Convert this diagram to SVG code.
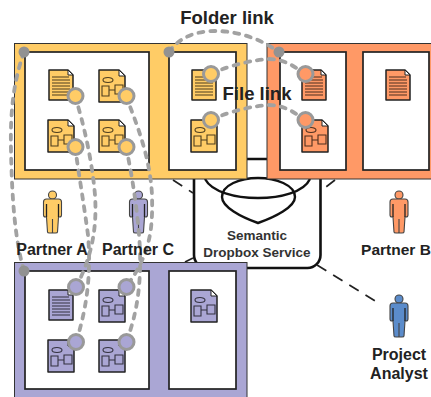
<svg xmlns="http://www.w3.org/2000/svg" width="431" height="397" viewBox="0 0 431 397">
<style>
text{font-family:"Liberation Sans",Arial,sans-serif;font-weight:bold;fill:#222;text-anchor:middle}
.big{font-size:18.5px}.lab{font-size:16px}.lab2{font-size:15.500px}.svc{font-size:13.5px;fill:#333}
.panel{stroke:#333;stroke-width:1}
.inner{fill:#fff;stroke:#222;stroke-width:1.7}
.y{fill:#FFCC66}.o{fill:#FF9966}.p{fill:#AAA6D4}.b{fill:#5B8CCB}
.doc{stroke:#222;stroke-width:1.5;stroke-linejoin:round}
.det{fill:none;stroke:#000;stroke-opacity:.7;stroke-width:1.1}
.ear{fill:#fff;stroke:#222;stroke-width:1}
.link{fill:none;stroke:#a2a2a2;stroke-width:3.800;stroke-dasharray:5 7;stroke-linecap:round}
.dot{fill:#929292}
.ring{stroke:#999;stroke-width:3}
.thin{fill:none;stroke:#222;stroke-width:1.700;stroke-dasharray:11 8}
.shape{fill:none;stroke:#111;stroke-width:2.400}
.arm{fill:none;stroke:#222;stroke-width:1.300}
.person{stroke:#444;stroke-width:1.100}
</style>
<defs>
<g id="tdoc">
<path class="doc" d="M0,0H19L24,5V30H0Z"/>
<path class="ear" d="M19,0L24,5H19Z"/>
<path class="det" d="M3,7H20M3,10H21M3,13H21M3,16H21M3,19H21M3,22H21M3,25H21"/>
</g>
<g id="ddoc">
<path class="doc" d="M0,0H20L26,6V32H0Z"/>
<path class="ear" d="M20,0L26,6H20Z"/>
<ellipse class="det" cx="9" cy="10" rx="5" ry="2.5"/>
<path class="det" d="M3,16H10V26H3ZM16,15H24V24H16ZM10,20H16"/>
</g>
<g id="person">
<circle cy="0" r="4"/>
<path d="M-9,7Q-9,4-6,4H6Q9,4 9,7V20Q9,22 7,22H6L5,37Q5,38 3,38H1Q0,38 0,37V24 37Q0,38-1,38H-3Q-5,38-5,37L-6,22H-7Q-9,22-9,20Z"/>
<path class="arm" d="M-6,9V22M6,9V22"/>
</g>
</defs>

<g id="service">
<rect x="194" y="159" width="126.500" height="109" rx="13" fill="#fff" stroke="#111" stroke-width="2.600"/>
<path class="shape" d="M205,179C212,192 235,198 258,198C281,198 304,192 310,179"/>
<path class="shape" d="M222,197C222,185 240,178 258,178C276,178 295,185 295,197C295,207 275,217 258,223C241,217 222,207 222,197Z"/>
<text class="svc" x="257" y="240">Semantic</text>
<text class="svc" x="257" y="257">Dropbox Service</text>
</g>

<g id="service-links">
<path class="thin" d="M173,180L193,193M335,180L322,190M185,262L193,258M317,265L380,304"/>
</g>

<g id="panel-yellow">
<rect class="panel y" x="14.500" y="43.500" width="232.500" height="135.500"/>
<rect class="inner" x="25" y="52" width="124" height="118"/>
<rect class="inner" x="169" y="52" width="67" height="118"/>
<use href="#tdoc" class="y" x="49" y="70"/>
<use href="#ddoc" class="y" x="99" y="70"/>
<use href="#ddoc" class="y" x="48" y="120"/>
<use href="#ddoc" class="y" x="99" y="120"/>
<use href="#tdoc" class="y" x="192" y="70"/>
<use href="#ddoc" class="y" x="191" y="120"/>
</g>

<g id="panel-orange">
<rect class="panel o" x="267" y="43.500" width="175" height="135.500"/>
<rect class="inner" x="280" y="52" width="66" height="118"/>
<rect class="inner" x="363" y="52" width="66" height="118"/>
<use href="#tdoc" class="o" x="302" y="70"/>
<use href="#ddoc" class="o" x="302" y="120"/>
<use href="#tdoc" class="o" x="386" y="70"/>
</g>

<g id="panel-purple">
<rect class="panel p" x="14.500" y="262.500" width="232.500" height="150"/>
<rect class="inner" x="25" y="271" width="124" height="118"/>
<rect class="inner" x="169" y="271" width="67" height="118"/>
<use href="#tdoc" class="p" x="49" y="290"/>
<use href="#ddoc" class="p" x="99" y="290"/>
<use href="#ddoc" class="p" x="48" y="340"/>
<use href="#ddoc" class="p" x="99" y="340"/>
<use href="#ddoc" class="p" x="191" y="290"/>
</g>

<g id="person-a"><use href="#person" class="y person" x="52.500" y="195"/></g>
<g id="person-c"><use href="#person" class="p person" x="138.500" y="195"/></g>
<g id="person-b"><use href="#person" class="o person" x="399" y="195"/></g>
<g id="person-analyst"><use href="#person" class="b person" x="399" y="299"/></g>

<g id="connectors">
<path class="link" d="M24,52C14,80 10,110 11,150C12,200 15,240 24,271"/>
<path class="link" d="M169,52C180,36 198,31 215,31C240,31 262,40 279,52"/>
<path class="link" d="M211,74C232,64 255,60 268,59C285,59 295,67 305,74"/>
<path class="link" d="M211,120C232,110 255,106 268,105C285,105 295,113 305,120"/>
<path class="link" d="M75,96C84,125 92,160 95,195C97,225 93,255 76,287"/>
<path class="link" d="M75,147C79,175 84,205 88,235C91,270 88,305 76,342"/>
<path class="link" d="M126,96C135,120 150,155 152,195C153,230 150,255 126,287"/>
<path class="link" d="M126,147C131,170 138,210 140,250C141,285 137,315 126,342"/>
<circle class="dot" cx="24" cy="52" r="5.500"/>
<circle class="dot" cx="169" cy="52" r="5.500"/>
<circle class="dot" cx="279" cy="52" r="5.500"/>
<circle class="dot" cx="24" cy="271" r="5.500"/>
<g class="ring">
<circle class="y" cx="75.500" cy="96" r="7.500"/>
<circle class="y" cx="126.500" cy="96" r="7.500"/>
<circle class="y" cx="75.500" cy="147" r="7.500"/>
<circle class="y" cx="126.500" cy="147" r="7.500"/>
<circle class="y" cx="211" cy="74" r="7.500"/>
<circle class="y" cx="211" cy="120" r="7.500"/>
<circle class="o" cx="305.500" cy="74" r="7.500"/>
<circle class="o" cx="305.500" cy="120" r="7.500"/>
<circle class="p" cx="76" cy="287" r="7.500"/>
<circle class="p" cx="126.500" cy="287" r="7.500"/>
<circle class="p" cx="76" cy="342" r="7.500"/>
<circle class="p" cx="126.500" cy="342" r="7.500"/>
</g>
</g>

<g id="labels">
<text class="big" x="227" y="24">Folder link</text>
<text class="big" x="257" y="100">File link</text>
<text class="lab" x="52" y="255">Partner A</text>
<text class="lab" x="138" y="255">Partner C</text>
<text class="lab2" x="396" y="255">Partner B</text>
<text class="lab" x="399" y="360">Project</text>
<text class="lab" x="399" y="379">Analyst</text>
</g>
</svg>
